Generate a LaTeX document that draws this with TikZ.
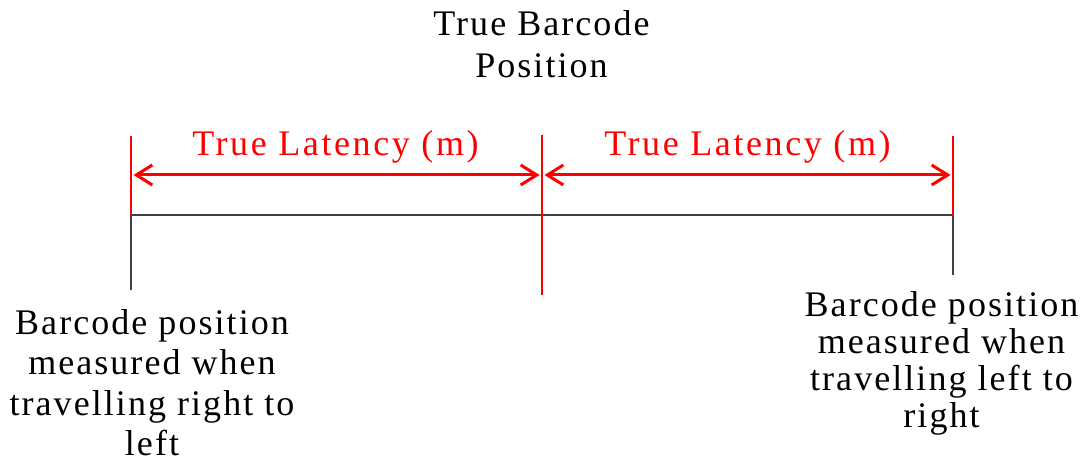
\documentclass[tikz,border=0pt]{standalone}
\usepackage{fontspec}
\setmainfont{Liberation Serif}[LetterSpace=5.7]
\usetikzlibrary{arrows.meta}
\definecolor{axisgray}{RGB}{64,64,64}
\tikzset{
  lbl/.style={inner sep=0pt, align=center, font=\fontsize{36bp}{40.2bp}\selectfont},
  redlbl/.style={inner sep=0pt, anchor=base, text=red,
    font=\fontsize{36bp}{40bp}\selectfont\addfontfeatures{LetterSpace=7.2}},
  redtick/.style={draw=red, line width=1.5bp},
  blacktick/.style={draw=axisgray, line width=2bp},
  latency/.style={draw=red, line width=3bp,
    {Straight Barb[length=16bp,width=20bp]}-{Straight Barb[length=16bp,width=20bp]},
    shorten <=2.5bp, shorten >=2.5bp}
}
\begin{document}
\begin{tikzpicture}[x=1bp,y=-1bp]
\useasboundingbox (0,0) rectangle (1091,463);
\fill[white] (0,0) rectangle (1091,463);

% reference points
\coordinate (Ltop) at (131,136);
\coordinate (Lmid) at (131,215);
\coordinate (Lbot) at (131,290);
\coordinate (Mtop) at (542,135);
\coordinate (Mbot) at (542,295);
\coordinate (Rtop) at (953,136);
\coordinate (Rmid) at (953,215);
\coordinate (Rbot) at (953,275);
\coordinate (La) at (131,175);
\coordinate (Ma) at (542,175);
\coordinate (Ra) at (953,175);

% measurement axis
\draw[blacktick] (Lmid) -- (Rmid);
\draw[blacktick] (Lmid) -- (Lbot);
\draw[blacktick] (Rmid) -- (Rbot);

% latency limits
\draw[redtick] (Ltop) -- (Lmid);
\draw[redtick] (Mtop) -- (Mbot);
\draw[redtick] (Rtop) -- (Rmid);

% latency arrows
\draw[latency] (La) -- (Ma);
\draw[latency] (Ma) -- (Ra);

% labels
\node[redlbl] (lat1) at (335.5,156) {True Latency (m)};
\node[redlbl] (lat2) at (747.5,156) {True Latency (m)};

\node[lbl, anchor=north, font=\fontsize{36bp}{42bp}\selectfont] (title) at (541.5,10.4)
  {True Barcode\\Position};
\node[lbl, anchor=north] (left) at (152,309.6)
  {Barcode position\\measured when\\travelling right to\\left};
\node[lbl, anchor=north, font=\fontsize{36bp}{36.9bp}\selectfont] (right) at (941.5,291.4)
  {Barcode position\\measured when\\travelling left to\\right};
\end{tikzpicture}
\end{document}
